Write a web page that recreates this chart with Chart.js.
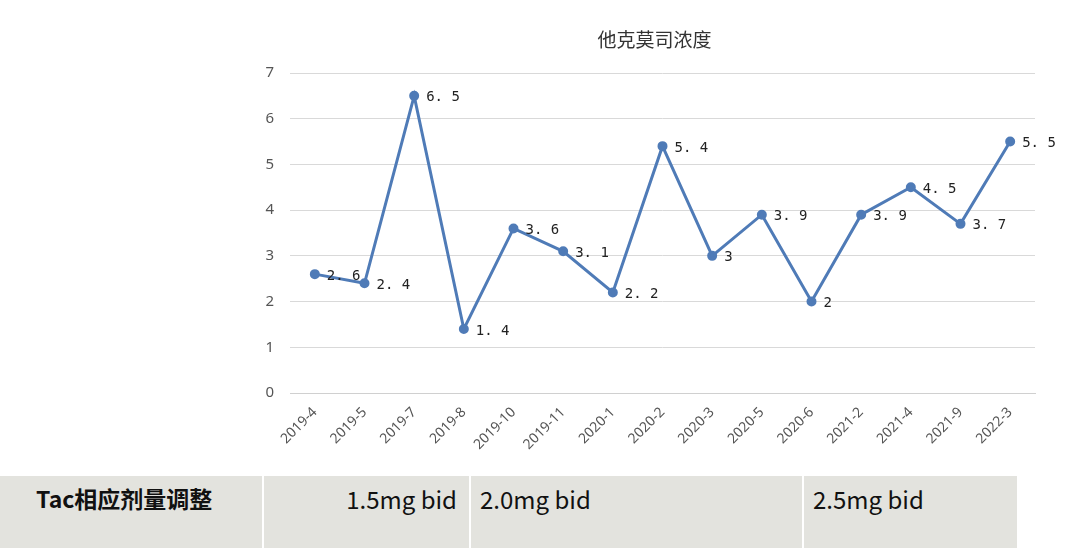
<!DOCTYPE html>
<html>
<head>
<meta charset="utf-8">
<script src="https://cdn.jsdelivr.net/npm/chart.js@4"></script>
<style>
  body { margin: 0; background: #fff; width: 1080px; height: 551px; overflow: hidden; font-family: "Noto Sans CJK SC", sans-serif; }
  #wrap { position: absolute; left: 0; top: 0; width: 1080px; height: 470px; }
  .cell { position: absolute; top: 476px; height: 72px; background: #e3e3de; font-size: 24px; color: #111; box-sizing: border-box; padding-top: 5px; font-family: "Liberation Sans Narrow", "Noto Sans CJK SC", sans-serif; }
</style>
</head>
<body>
<div id="wrap"><canvas id="c"></canvas></div>
<div class="cell" style="left:0;width:262px;font-weight:bold;padding-left:36px;font-size:23px;">Tac相应剂量调整</div>
<div class="cell" style="left:264px;width:205px;text-align:right;padding-right:12px;">1.5mg bid</div>
<div class="cell" style="left:471px;width:331px;padding-left:9px;">2.0mg bid</div>
<div class="cell" style="left:804px;width:213px;padding-left:9px;">2.5mg bid</div>
<script>
const labels = ['2019-4', '2019-5', '2019-7', '2019-8', '2019-10', '2019-11', '2020-1', '2020-2', '2020-3', '2020-5', '2020-6', '2021-2', '2021-4', '2021-9', '2022-3'];
const values = [2.6, 2.4, 6.5, 1.4, 3.6, 3.1, 2.2, 5.4, 3, 3.9, 2, 3.9, 4.5, 3.7, 5.5];
const titleText = '他克莫司浓度';

const extras = {
  id: 'extras',
  afterDatasetsDraw(chart) {
    const ctx = chart.ctx;
    const meta = chart.getDatasetMeta(0);
    ctx.save();
    ctx.fillStyle = '#222';
    ctx.font = '14px "DejaVu Sans Mono"';
    ctx.textBaseline = 'middle';
    ctx.textAlign = 'left';
    meta.data.forEach((p, i) => {
      ctx.fillText(String(values[i]).replace('.', '. '), p.x + 12, p.y + 2);
    });
    const a = chart.chartArea;
    ctx.font = '19px "Noto Sans CJK SC"';
    ctx.textAlign = 'center';
    ctx.fillStyle = '#333';
    ctx.fillText(titleText, (a.left + a.right) / 2 - 8, 40);
    ctx.restore();
  }
};

new Chart(document.getElementById('c'), {
  type: 'line',
  data: {
    labels,
    datasets: [{
      data: values,
      borderColor: '#4f7bb7',
      backgroundColor: '#4f7bb7',
      borderWidth: 3,
      pointRadius: 3.5,
      tension: 0
    }]
  },
  options: {
    responsive: true,
    maintainAspectRatio: false,
    animation: false,
    layout: { padding: { top: 73, right: 45, left: 0, bottom: 0 } },
    plugins: { legend: { display: false }, tooltip: { enabled: false } },
    scales: {
      x: {
        offset: true,
        grid: { display: false },
        border: { color: '#d0d0d0' },
        ticks: { minRotation: 45, maxRotation: 45, color: '#555', font: { size: 14, family: 'Noto Sans' } },
        afterFit: s => { s.height = 77; }
      },
      y: {
        min: 0, max: 7,
        grid: { color: '#d9d9d9', drawTicks: false },
        border: { display: false },
        ticks: { stepSize: 1, padding: 16, color: '#555', font: { size: 15, family: 'Noto Sans' } },
        afterFit: s => { s.width = 290; }
      }
    }
  },
  plugins: [extras]
});
</script>
</body>
</html>
